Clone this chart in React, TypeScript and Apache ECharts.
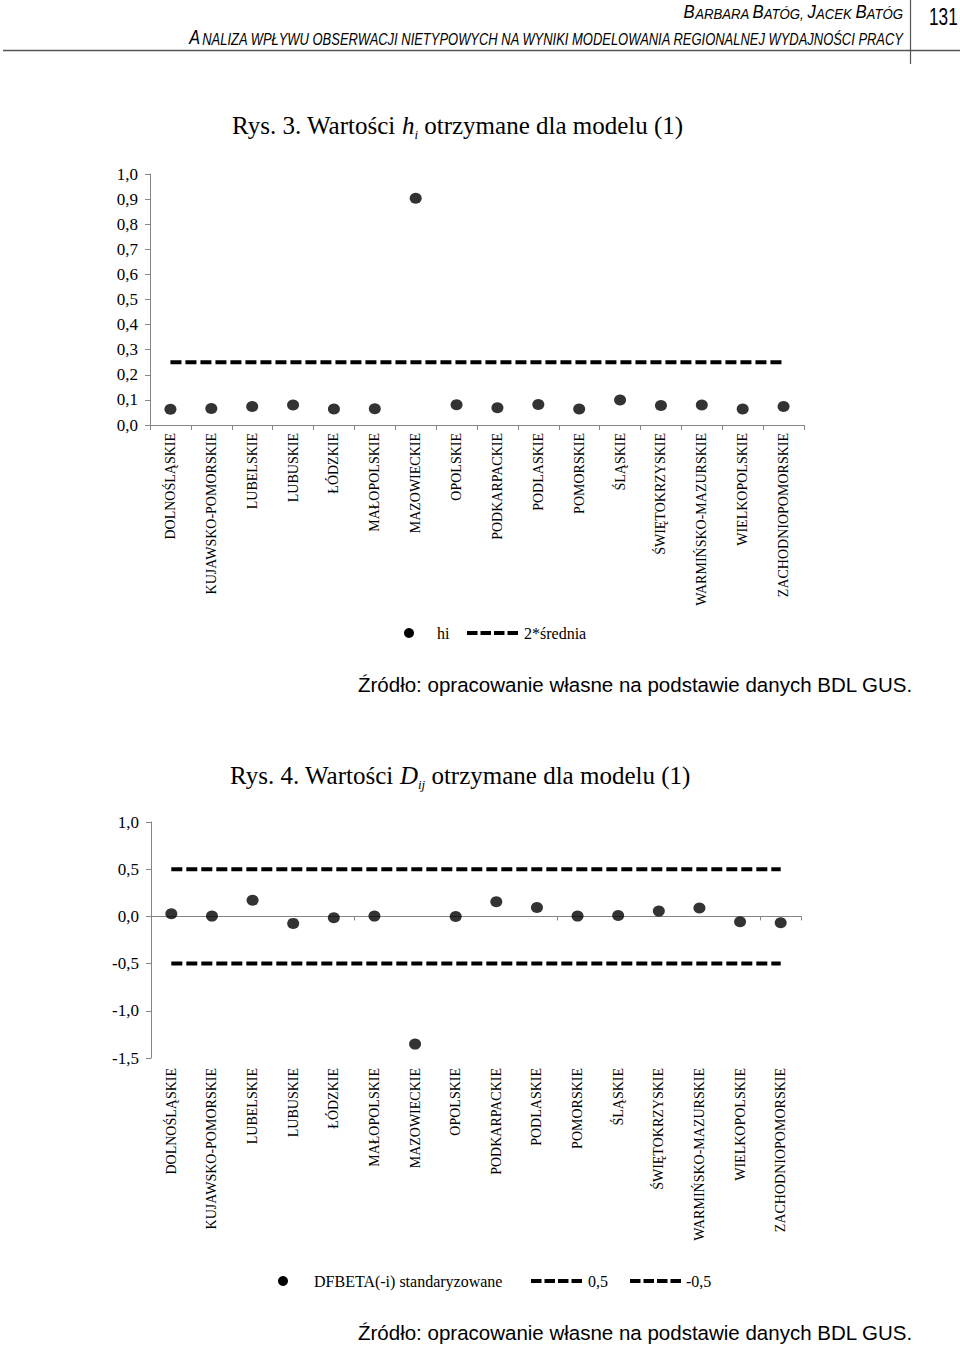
import React, { useEffect, useRef } from 'react';
import * as echarts from 'echarts';

const regions = [
  'DOLNOŚLĄSKIE', 'KUJAWSKO-POMORSKIE', 'LUBELSKIE', 'LUBUSKIE', 'ŁÓDZKIE', 'MAŁOPOLSKIE',
  'MAZOWIECKIE', 'OPOLSKIE', 'PODKARPACKIE', 'PODLASKIE', 'POMORSKIE', 'ŚLĄSKIE',
  'ŚWIĘTOKRZYSKIE', 'WARMIŃSKO-MAZURSKIE', 'WIELKOPOLSKIE', 'ZACHODNIOPOMORSKIE',
];
const hValues = [0.063, 0.066, 0.074, 0.080, 0.064, 0.065, 0.903, 0.081, 0.069, 0.082, 0.064, 0.100, 0.078, 0.080, 0.064, 0.074];
const hTwiceMean = 0.25;
const dfbetaValues = [0.027, 0.003, 0.172, -0.074, -0.014, 0.003, -1.353, 0.0, 0.156, 0.095, 0.003, 0.010, 0.056, 0.088, -0.057, -0.067];
const dfbetaUpper = 0.5;
const dfbetaLower = -0.5;
const hAxis = { min: 0, max: 1, interval: 0.1 };
const dAxis = { min: -1.5, max: 1, interval: 0.5 };

const SERIF = '"Liberation Serif", "Times New Roman", serif';
const SANS = '"Liberation Sans", Arial, sans-serif';
const AXIS_GREY = '#858585';
const fmt = (v: number) => v.toFixed(1).replace('.', ',');
const DASH = [11, 4];

export default function App() {
  const ref = useRef<HTMLDivElement>(null);
  useEffect(() => {
    if (!ref.current) return;
    const chart = echarts.init(ref.current, undefined, { renderer: 'svg' });

    const yAxisCommon = {
      type: 'value',
      axisLine: { show: true, lineStyle: { color: AXIS_GREY, width: 1 } },
      axisTick: { show: true, length: 5, lineStyle: { color: AXIS_GREY } },
      splitLine: { show: false },
      axisLabel: { color: '#000', fontFamily: SERIF, fontSize: 17, margin: 12, formatter: fmt },
    };
    const catLabel = { color: '#000', fontFamily: SERIF, fontSize: 14, rotate: 90, interval: 0 };

    const dashed = (name: string, value: number, xi: number, yi: number) => ({
      name,
      type: 'line',
      xAxisIndex: xi,
      yAxisIndex: yi,
      data: regions.map(() => value),
      symbol: 'none',
      lineStyle: { color: '#000', width: 4, type: DASH, cap: 'butt' },
      silent: true,
      z: 2,
    });

    const legendLine = (x1: number, x2: number, y: number) => ({
      type: 'line',
      shape: { x1, y1: y, x2, y2: y },
      style: { stroke: '#000', lineWidth: 4, lineDash: [10.5, 3] },
    });
    const legendText = (x: number, y: number, text: string) => ({
      type: 'text', x, y,
      style: { text, fontFamily: SERIF, fontSize: 16, fill: '#000', verticalAlign: 'middle' },
    });

    chart.setOption({
      animation: false,
      backgroundColor: '#fff',
      grid: [
        { left: 150, width: 654, top: 174, height: 251 },
        { left: 151, width: 650, top: 822, height: 236 },
      ],
      xAxis: [
        {
          type: 'category', gridIndex: 0, data: regions, boundaryGap: true,
          axisLine: { show: true, lineStyle: { color: AXIS_GREY } },
          axisTick: { show: true, length: 5, lineStyle: { color: AXIS_GREY } },
          axisLabel: { ...catLabel, margin: 8 },
        },
        {
          type: 'category', gridIndex: 1, data: regions, boundaryGap: true,
          axisLine: { show: true, onZero: true, lineStyle: { color: AXIS_GREY } },
          axisTick: { show: true, length: 4, lineStyle: { color: AXIS_GREY } },
          axisLabel: { show: false },
        },
        {
          type: 'category', gridIndex: 1, data: regions, boundaryGap: true, position: 'bottom',
          axisLine: { show: false, onZero: false },
          axisTick: { show: false },
          axisLabel: { ...catLabel, margin: 10 },
        },
      ],
      yAxis: [
        { ...yAxisCommon, gridIndex: 0, ...hAxis },
        { ...yAxisCommon, gridIndex: 1, ...dAxis },
      ],
      series: [
        dashed('2*średnia', hTwiceMean, 0, 0),
        {
          name: 'hi', type: 'scatter', xAxisIndex: 0, yAxisIndex: 0, data: hValues,
          symbol: 'circle', symbolSize: [12, 11], itemStyle: { color: '#000' }, z: 3,
        },
        dashed('0,5', dfbetaUpper, 1, 1),
        dashed('-0,5', dfbetaLower, 1, 1),
        {
          name: 'DFBETA(-i) standaryzowane', type: 'scatter', xAxisIndex: 1, yAxisIndex: 1, data: dfbetaValues,
          symbol: 'circle', symbolSize: [12, 11], itemStyle: { color: '#000' }, z: 3,
        },
      ],
      graphic: [
        // page header
        {
          type: 'text', x: 903, y: 11, scaleX: 0.88,
          style: {
            text: '{b|B}{s|ARBARA }{b|B}{s|ATÓG, }{b|J}{s|ACEK }{b|B}{s|ATÓG}',
            align: 'right', verticalAlign: 'middle',
            rich: {
              b: { fontFamily: SANS, fontStyle: 'italic', fontSize: 19, fill: '#000', verticalAlign: 'bottom', lineHeight: 20 },
              s: { fontFamily: SANS, fontStyle: 'italic', fontSize: 15, fill: '#000', verticalAlign: 'bottom', lineHeight: 20 },
            },
          },
        },
        {
          type: 'text', x: 903, y: 37, scaleX: 0.81,
          style: {
            text: '{b|A}{s|NALIZA WPŁYWU OBSERWACJI NIETYPOWYCH NA WYNIKI MODELOWANIA REGIONALNEJ WYDAJNOŚCI PRACY}',
            align: 'right', verticalAlign: 'middle',
            rich: {
              b: { fontFamily: SANS, fontStyle: 'italic', fontSize: 20, fill: '#000', verticalAlign: 'bottom', lineHeight: 20 },
              s: { fontFamily: SANS, fontStyle: 'italic', fontSize: 16, fill: '#000', verticalAlign: 'bottom', lineHeight: 20 },
            },
          },
        },
        {
          type: 'text', x: 929, y: 17, scaleX: 0.75,
          style: { text: '131', fontFamily: SANS, fontSize: 23, fill: '#000', align: 'left', verticalAlign: 'middle' },
        },
        { type: 'line', shape: { x1: 3, y1: 50.5, x2: 960, y2: 50.5 }, style: { stroke: '#555', lineWidth: 1.5 } },
        { type: 'line', shape: { x1: 910.5, y1: 0, x2: 910.5, y2: 64 }, style: { stroke: '#555', lineWidth: 1.2 } },

        // title 1
        {
          type: 'text', x: 232, y: 125,
          style: {
            text: '{n|Rys. 3. Wartości }{i|h}{sub|i}{n| otrzymane dla modelu (1)}',
            align: 'left', verticalAlign: 'middle',
            rich: {
              n: { fontFamily: SERIF, fontSize: 25, fill: '#000', lineHeight: 32 },
              i: { fontFamily: SERIF, fontSize: 25, fontStyle: 'italic', fill: '#000', lineHeight: 32 },
              sub: { fontFamily: SERIF, fontSize: 13, fontStyle: 'italic', fill: '#000', lineHeight: 12, verticalAlign: 'bottom' },
            },
          },
        },
        // legend 1
        { type: 'circle', shape: { cx: 409, cy: 633, r: 5 }, style: { fill: '#000' } },
        legendText(437, 633, 'hi'),
        legendLine(467, 521, 633),
        legendText(524, 633, '2*średnia'),
        // source 1
        {
          type: 'text', x: 358, y: 684,
          style: { text: 'Źródło: opracowanie własne na podstawie danych BDL GUS.', fontFamily: SANS, fontSize: 20.5, fill: '#000', verticalAlign: 'middle' },
        },

        // title 2
        {
          type: 'text', x: 230, y: 775,
          style: {
            text: '{n|Rys. 4. Wartości }{i|D}{sub|ij}{n| otrzymane dla modelu (1)}',
            align: 'left', verticalAlign: 'middle',
            rich: {
              n: { fontFamily: SERIF, fontSize: 25, fill: '#000', lineHeight: 32 },
              i: { fontFamily: SERIF, fontSize: 25, fontStyle: 'italic', fill: '#000', lineHeight: 32 },
              sub: { fontFamily: SERIF, fontSize: 13, fontStyle: 'italic', fill: '#000', lineHeight: 4, verticalAlign: 'bottom' },
            },
          },
        },
        // legend 2
        { type: 'circle', shape: { cx: 283, cy: 1281, r: 5 }, style: { fill: '#000' } },
        legendText(314, 1281, 'DFBETA(-i) standaryzowane'),
        legendLine(531, 585, 1281),
        legendText(588, 1281, '0,5'),
        legendLine(630, 684, 1281),
        legendText(686, 1281, '-0,5'),
        // source 2
        {
          type: 'text', x: 358, y: 1332,
          style: { text: 'Źródło: opracowanie własne na podstawie danych BDL GUS.', fontFamily: SANS, fontSize: 20.5, fill: '#000', verticalAlign: 'middle' },
        },
      ],
    });
    return () => chart.dispose();
  }, []);

  return <div ref={ref} style={{ position: 'absolute', left: 0, top: 0, width: 960, height: 1348 }} />;
}
